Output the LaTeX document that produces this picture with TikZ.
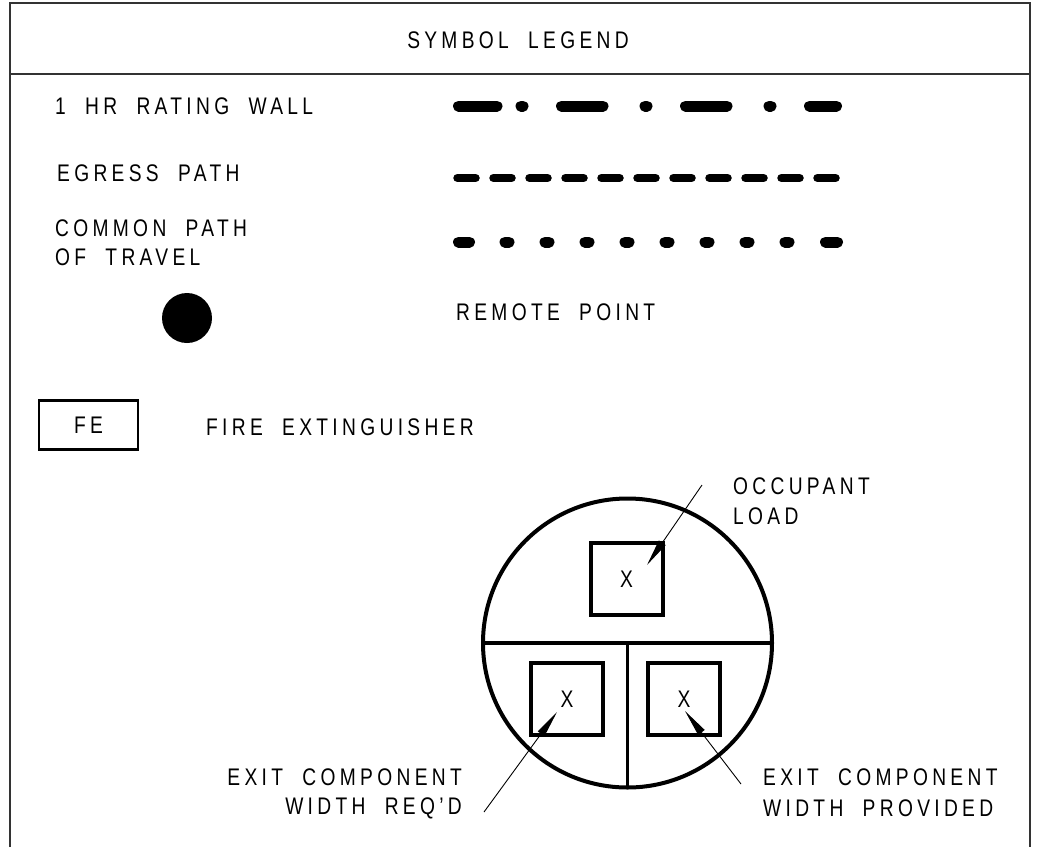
\documentclass[tikz,border=0pt]{standalone}
\usepackage{fontspec}
\setmainfont{Liberation Sans}[FakeStretch=0.8,LetterSpace=18]
\usetikzlibrary{arrows.meta}
\begin{document}
\begin{tikzpicture}[x=1pt,y=-1pt,
  txt/.style={inner sep=0pt,font=\fontsize{24}{28}\selectfont},
  lbl/.style={txt,anchor=west},
  rlbl/.style={txt,anchor=east},
  frame/.style={line width=1.5pt,black!80},
  pat/.style={line cap=round,line width=#1},
  sym/.style={line width=4pt},
  sq/.style={draw,line width=4pt,minimum size=72pt,inner sep=0pt,font=\fontsize{24}{28}\selectfont},
  leader/.style={line width=0.9pt,-{Triangle[length=27pt,width=8pt]}},
  febox/.style={draw,line width=2.5pt,minimum width=99pt,minimum height=49pt,inner sep=0pt,font=\fontsize{24}{28}\selectfont}
]
\useasboundingbox (0,0) rectangle (1045,847);
% frame
\draw[frame] (10,847) -- (10,3) -- (1030,3) -- (1030,847);
\draw[frame] (10,74) -- (1030,74);
\node[txt] (title) at (518,40) {SYMBOL\ \ LEGEND};
% labels
\node[lbl] (wall) at (55,106) {1\ \ HR\ \ RATING\ \ WALL};
\node[lbl] (egress) at (57,173) {EGRESS\ \ PATH};
\node[lbl] (common) at (55,228) {COMMON\ \ PATH};
\node[lbl] (travel) at (55,257) {OF\ \ TRAVEL};
\node[lbl] (remote) at (456,312) {REMOTE\ \ POINT};
\node[lbl] (fire) at (206,427) {FIRE\ \ EXTINGUISHER};
% 1 hr wall pattern
\begin{scope}[pat=11pt]
\draw (458.5,106) -- (497,106);
\draw (521,106) -- (523,106);
\draw (561.5,106) -- (603,106);
\draw (645,106) -- (647,106);
\draw (685.5,106) -- (727,106);
\draw (769,106) -- (771,106);
\draw (809.5,106) -- (836.5,106);
\end{scope}
% egress pattern
\foreach \i in {0,...,10}
  \draw[pat=8.5pt] ({457.5+36*\i},178) -- ({475.5+36*\i},178);
% common path pattern
\begin{scope}[pat=11pt]
\draw (458.5,242) -- (469.5,242);
\foreach \i in {0,...,7}
  \draw ({505+40*\i},242) -- ({509+40*\i},242);
\draw (825.5,242) -- (837.5,242);
\end{scope}
% remote point
\fill (187,318) circle[radius=25];
% FE box
\node[febox] (fe) at (88.5,425) {FE};
% occupant symbol
\draw[sym] (627.5,643) circle[radius=144.5];
\draw[line width=3.5pt] (483,643) -- (772,643);
\draw[line width=3.5pt] (627.5,643) -- (627.5,787);
\node[sq] (occ) at (626.5,579) {X};
\node[sq] (req) at (567,699) {X};
\node[sq] (prov) at (684,699) {X};
\node[lbl] (occt1) at (733,486) {OCCUPANT};
\node[lbl] (occt2) at (733,516) {LOAD};
\node[rlbl] (reqt1) at (462,777) {EXIT\ \ COMPONENT};
\node[rlbl] (reqt2) at (462,808) {WIDTH\ \ REQ'D};
\node[lbl] (provt1) at (763,777) {EXIT\ \ COMPONENT};
\node[lbl] (provt2) at (763,808) {WIDTH\ \ PROVIDED};
% leaders
\coordinate (occend) at (702,485);
\coordinate (occtip) at (647,565);
\coordinate (reqend) at (484,812);
\coordinate (reqtip) at (557,712);
\coordinate (provend) at (741,784);
\coordinate (provtip) at (685,711);
\draw[leader] (occend) -- (occtip);
\draw[leader] (reqend) -- (reqtip);
\draw[leader] (provend) -- (provtip);
\end{tikzpicture}
\end{document}
